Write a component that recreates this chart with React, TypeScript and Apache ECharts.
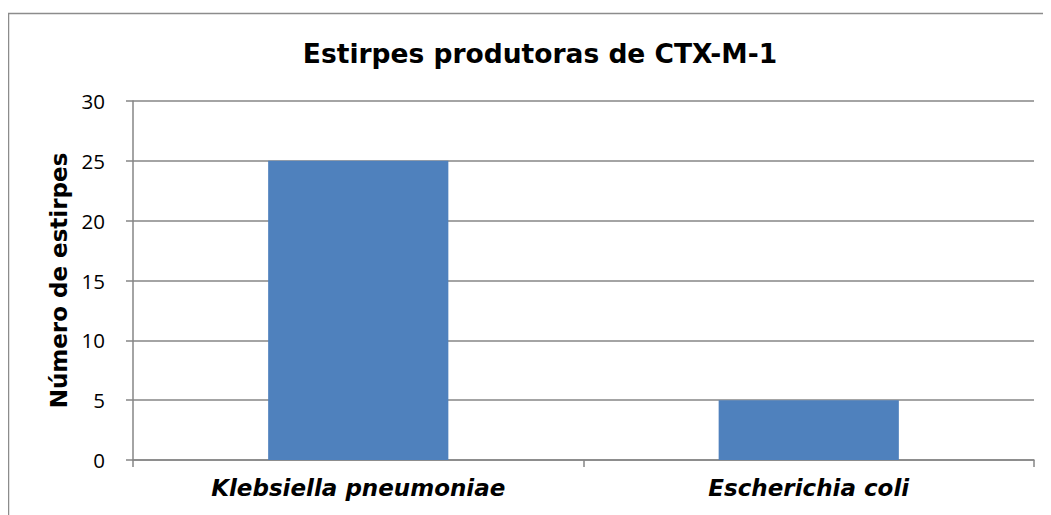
import React, { useEffect, useRef } from "react";
import * as echarts from "echarts";

const categories = ["Klebsiella pneumoniae", "Escherichia coli"];
const values = [25, 5];
const yTicks = { min: 0, max: 30, interval: 5 };
const title = "Estirpes produtoras de CTX-M-1";
const yName = "Número de estirpes";

export default function App() {
  const ref = useRef<HTMLDivElement>(null);
  useEffect(() => {
    if (!ref.current) return;
    const chart = echarts.init(ref.current, null, { renderer: "svg" });
    chart.setOption({
      animation: false,
      backgroundColor: "#ffffff",
      title: {
        text: title,
        left: 527,
        top: 27,
        textAlign: "center",
        textStyle: { fontFamily: "DejaVu Sans", fontWeight: "bold", fontSize: 26.5, color: "#000" },
      },
      graphic: [
        {
          type: "rect",
          shape: { x: 0.5, y: 5.5, width: 1042, height: 520 },
          style: { fill: "none", stroke: "#8c8c8c", lineWidth: 1.5 },
          silent: true,
        },
      ],
      grid: { left: 125, right: 17, top: 93, bottom: 55, containLabel: false },
      xAxis: {
        type: "category",
        data: categories,
        axisLine: { lineStyle: { color: "#868686", width: 1.5 } },
        axisTick: { show: true, alignWithLabel: false, length: 7, lineStyle: { color: "#868686", width: 1.5 } },
        axisLabel: {
          color: "#000",
          fontFamily: "DejaVu Sans",
          fontStyle: "italic",
          fontWeight: "bold",
          fontSize: 23,
          margin: 16,
        },
      },
      yAxis: {
        type: "value",
        min: yTicks.min,
        max: yTicks.max,
        interval: yTicks.interval,
        name: yName,
        nameLocation: "middle",
        nameGap: 63,
        nameRotate: 90,
        nameTextStyle: { fontFamily: "DejaVu Sans", fontWeight: "bold", fontSize: 23, color: "#000" },
        axisLine: { show: true, lineStyle: { color: "#868686", width: 1.5 } },
        axisTick: { show: true, length: 7, lineStyle: { color: "#868686", width: 1.5 } },
        axisLabel: { color: "#000", fontFamily: "Open Sans", fontSize: 20.5, margin: 28 },
        splitLine: { show: true, lineStyle: { color: "#868686", width: 1.5 } },
      },
      series: [
        {
          type: "bar",
          data: values,
          barWidth: "40%",
          itemStyle: { color: "#4F81BD" },
        },
      ],
    });
    return () => chart.dispose();
  }, []);
  return <div ref={ref} style={{ width: 1043, height: 507 }} />;
}
